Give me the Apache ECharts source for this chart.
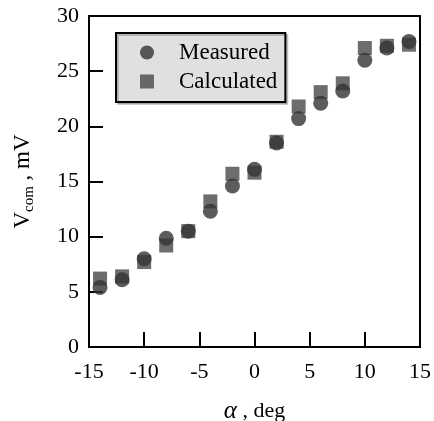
<!DOCTYPE html>
<html><head><meta charset="utf-8">
<script src="https://cdn.jsdelivr.net/npm/echarts@6/dist/echarts.min.js"></script>
<style>html,body{margin:0;padding:0;background:#fff}#c{width:434px;height:421px}</style>
</head><body><div id="c"></div>
<script>
const angles = [-14,-12,-10,-8,-6,-4,-2,0,2,4,6,8,10,12,14];
const measured = [5.4,6.1,8.0,9.85,10.5,12.3,14.6,16.1,18.5,20.7,22.1,23.2,26.0,27.1,27.7];
const calculated = [6.2,6.4,7.7,9.2,10.5,13.2,15.7,15.8,18.6,21.8,23.1,23.9,27.1,27.3,27.4];
const xTicks = [-15,-10,-5,0,5,10,15];
const yTicks = [0,5,10,15,20,25,30];

const font = 'Liberation Serif';
const chart = echarts.init(document.getElementById('c'));
chart.setOption({
  animation:false,
  backgroundColor:'#fff',
  grid:{left:89,right:14,top:16,bottom:74,show:true,borderColor:'#000',borderWidth:2,backgroundColor:'transparent',
        containLabel:false,outerBoundsMode:'none'},
  legend:{
    data:['Measured','Calculated'],
    orient:'vertical',left:116,top:33,
    backgroundColor:'#e0e0e0',borderColor:'#000',borderWidth:2,
    padding:[8,8,9,24],
    itemWidth:14,itemHeight:14,itemGap:6,
    textStyle:{fontFamily:font,fontSize:23,color:'#000',padding:[0,0,0,20]},
    shadowColor:'rgba(0,0,0,0.2)',shadowBlur:0,shadowOffsetX:2,shadowOffsetY:2
  },
  xAxis:{
    type:'value',min:xTicks[0],max:xTicks[xTicks.length-1],interval:5,
    axisLine:{show:false,onZero:false},
    axisTick:{show:true,inside:true,length:15,lineStyle:{color:'#000',width:2}},
    splitLine:{show:false},
    axisLabel:{fontFamily:font,fontSize:22,color:'#000',margin:14},
    name:'{a|α}{b| , deg}',nameLocation:'middle',nameGap:52,
    nameTextStyle:{rich:{a:{fontFamily:font,fontStyle:'italic',fontSize:25,color:'#000'},b:{fontFamily:font,fontSize:22,color:'#000'}}}
  },
  yAxis:{
    type:'value',min:yTicks[0],max:yTicks[yTicks.length-1],interval:5,
    axisLine:{show:false,onZero:false},
    axisTick:{show:true,inside:true,length:14,lineStyle:{color:'#000',width:2}},
    splitLine:{show:false},
    axisLabel:{fontFamily:font,fontSize:22,color:'#000',margin:10},
    name:'{v|V}{s|com}{v| , mV}',nameLocation:'middle',nameGap:52,nameRotate:90,
    nameTextStyle:{rich:{
      v:{fontFamily:font,fontSize:23,color:'#000',lineHeight:28,verticalAlign:'middle'},
      s:{fontFamily:font,fontSize:15,color:'#000',lineHeight:16,verticalAlign:'bottom'}
    }}
  },
  series:[
    {name:'Calculated',type:'scatter',symbol:'rect',symbolSize:14,
     itemStyle:{color:'#484848'},data:angles.map((a,i)=>[a,calculated[i]]),z:2},
    {name:'Measured',type:'scatter',symbol:'circle',symbolSize:15,
     itemStyle:{color:'#333333'},data:angles.map((a,i)=>[a,measured[i]]),z:3}
  ]
});
</script></body></html>
